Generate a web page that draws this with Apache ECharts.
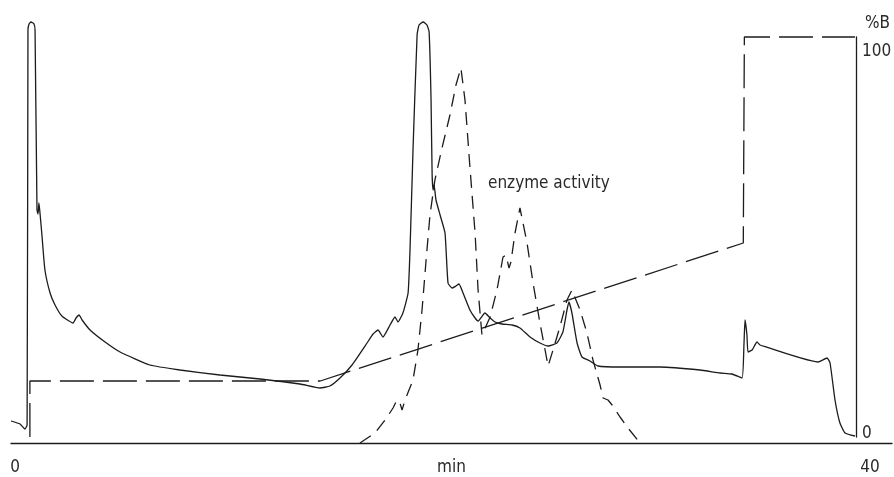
<!DOCTYPE html>
<html>
<head>
<meta charset="utf-8">
<script src="https://cdn.jsdelivr.net/npm/echarts@6/dist/echarts.min.js"></script>
<style>
  html, body { margin: 0; padding: 0; background: #fff; }
  #chart { width: 894px; height: 477px; }
</style>
</head>
<body>
<div id="chart"></div>
<script>
// Chromatogram with gradient (%B) and enzyme activity traces.
// Absorbance and activity are in arbitrary units on hidden 0-100 axes.

const xTicks = [0, 40];
const bTicks = [0, 100];

// UV absorbance (solid)
const absTime = [0, 0.42, 0.65, 0.75, 0.79, 0.84, 0.93, 1.07, 1.12, 1.21, 1.26, 1.30, 1.35, 1.44, 1.58, 1.82,
  2.05, 2.37, 2.89, 3.03, 3.17, 3.31, 3.68, 4.38, 5.08, 6.47, 7.87, 9.73, 11.6, 13.46, 14.39, 14.85, 15.32,
  15.88, 16.58, 16.86, 17.09, 17.32, 17.65, 17.88, 18.02, 18.25, 18.49, 18.58, 18.72, 18.91, 19.0, 19.19,
  19.37, 19.47, 19.56, 19.61, 19.66, 19.70, 19.79, 19.98, 20.21, 20.35, 20.54, 20.72, 20.86, 21.05, 21.37,
  21.61, 21.75, 22.07, 22.31, 22.54, 22.86, 23.33, 23.70, 24.17, 24.63, 25.01, 25.42, 25.70, 25.89, 25.98,
  26.12, 26.36, 26.59, 26.96, 27.33, 28.36, 30.22, 32.08, 33.02, 33.57, 34.04, 34.13, 34.18, 34.27, 34.32,
  34.51, 34.74, 34.88, 37.58, 38.0, 38.14, 38.37, 38.6, 38.84, 39.3];
const absValue = [4.0, 3.25, 2.0, 3.0, 101.75, 103.25, 103.75, 103.25, 101.75, 56.75, 55.75, 58.5, 56, 50.5, 41.75, 36,
  33, 30.25, 28.5, 29.75, 30.5, 29.25, 26.75, 23.75, 21.25, 18, 16.75, 15.5, 14.5, 13.25, 12.25, 12.75, 14.75,
  18, 23.5, 25.75, 26.75, 25, 28, 30, 28.75, 31, 36, 46.75, 71.75, 100.5, 103, 103.75,
  103, 101.25, 84.25, 65.5, 61.75, 63, 59.25, 55.5, 51, 38.5, 37.25, 37.75, 38.25, 36, 31.75,
  29.75, 29, 31, 29.75, 28.75, 28.25, 28, 27.25, 25, 23.5, 22.75, 23.5, 26.25, 31.75, 33.75,
  31, 23.5, 20, 19, 17.75, 17.5, 17.5, 16.75, 16, 15.75, 14.75, 23, 29.25, 25.5, 21.25,
  21.75, 23.75, 23, 18.75, 19.75, 18.5, 9.25, 3.5, 1, 0.25];

// enzyme activity (short dash)
const enzTime = [16.25, 16.95, 17.42, 17.79, 17.97, 18.11, 18.21, 18.35, 18.72, 18.95, 19.14, 19.33, 19.51, 19.74,
  20.07, 20.44, 20.72, 20.95, 21.14, 21.37, 21.61, 21.75, 21.93, 22.31, 22.63, 22.91, 23.05, 23.19, 23.28, 23.47,
  23.70, 24.03, 24.31, 24.63, 24.87, 25.01, 25.24, 25.56, 25.89, 26.12, 26.5, 26.82, 27.10, 27.43, 27.57, 27.8,
  27.99, 28.36, 28.73, 29.29];
const enzValue = [-1.5, 1, 4.25, 7.25, 9.25, 8.5, 6.75, 9.25, 14.25, 21.75, 31.75, 44.25, 55.5, 64.25,
  72.25, 80.5, 88, 92.25, 84.25, 67.5, 51, 36.75, 25.5, 30, 36.75, 45, 45.5, 42.25, 43.75, 51,
  57.25, 48.5, 38.5, 28.5, 21.75, 17.75, 21.75, 27.5, 34.25, 36.75, 31.75, 26, 19.25, 13, 9.75, 9.25,
  8, 5, 2.25, -1.5];

// gradient %B (long dash)
const gradTime = [0.88, 0.88, 14.4, 34.1, 34.15, 39.3];
const gradB = [0, 14, 14, 48.5, 100, 100];

const zip = (xs, ys) => xs.map((x, i) => [x, ys[i]]);

const ink = '#1c1c1c';
const textColor = '#2a2a2a';
const font = "'DejaVu Sans Condensed', 'Liberation Sans Narrow', sans-serif";
const pxPerMin = 21.475; // both grids share this time scale

const chart = echarts.init(document.getElementById('chart'), null, { renderer: 'canvas' });

chart.setOption({
  animation: false,
  backgroundColor: '#ffffff',
  grid: [
    // main plot: time axis runs past the %B axis to the right edge
    { left: 11, right: 2, top: 37, bottom: 40, outerBoundsMode: 'none', containLabel: false },
    // %B plot: same time scale, right edge at the %B axis
    { left: 11, right: 38, top: 37, bottom: 40, outerBoundsMode: 'none', containLabel: false }
  ],
  xAxis: [
    {
      gridIndex: 0,
      type: 'value',
      min: 0,
      max: 881 / pxPerMin,
      offset: 6,
      name: 'min',
      nameLocation: 'middle',
      nameGap: 16,
      nameMoveOverlap: false,
      nameTextStyle: { color: textColor, fontFamily: font, fontSize: 17 },
      axisLine: { show: true, onZero: false, lineStyle: { color: ink, width: 1.3 } },
      axisTick: { show: false },
      splitLine: { show: false },
      axisLabel: {
        customValues: xTicks,
        margin: 16,
        color: textColor,
        fontFamily: font,
        fontSize: 17,
        formatter: (v) => (v === 0 ? '{l|0}' : '{r|' + v + '}'),
        rich: {
          l: { fontFamily: font, fontSize: 17, color: textColor, padding: [0, 0, 0, 8] },
          r: { fontFamily: font, fontSize: 17, color: textColor }
        }
      }
    },
    {
      gridIndex: 1,
      type: 'value',
      show: false,
      min: 0,
      max: 845 / pxPerMin
    }
  ],
  yAxis: [
    {
      gridIndex: 1,
      type: 'value',
      position: 'right',
      min: 0,
      max: 100,
      name: '%B',
      nameLocation: 'end',
      nameGap: 5,
      nameMoveOverlap: false,
      nameTextStyle: { color: textColor, fontFamily: font, fontSize: 17, align: 'left', padding: [0, 0, 0, 9] },
      axisLine: { show: true, onZero: false, lineStyle: { color: ink, width: 1.3 } },
      axisTick: { show: false },
      splitLine: { show: false },
      axisLabel: {
        customValues: bTicks,
        margin: 6,
        color: textColor,
        fontFamily: font,
        fontSize: 17,
        formatter: (v) => (v === 100 ? '{t|100}' : '{b|' + v + '}'),
        rich: {
          t: { fontFamily: font, fontSize: 17, color: textColor, padding: [30, 0, 0, 0] },
          b: { fontFamily: font, fontSize: 17, color: textColor, padding: [0, 0, 6, 0] }
        }
      }
    },
    { gridIndex: 0, type: 'value', show: false, min: 0, max: 100 },
    { gridIndex: 0, type: 'value', show: false, min: 0, max: 100 }
  ],
  graphic: [
    {
      type: 'text',
      left: 488,
      top: 175,
      style: { text: 'enzyme activity', fill: textColor, font: '17px ' + font }
    }
  ],
  series: [
    {
      name: 'absorbance',
      type: 'line',
      xAxisIndex: 0,
      yAxisIndex: 1,
      data: zip(absTime, absValue),
      showSymbol: false,
      clip: false,
      smooth: 0.15,
      lineStyle: { color: ink, width: 1.3 }
    },
    {
      name: 'enzyme activity',
      type: 'line',
      xAxisIndex: 0,
      yAxisIndex: 2,
      data: zip(enzTime, enzValue),
      showSymbol: false,
      clip: false,
      lineStyle: { color: ink, width: 1.3, type: [13, 8] }
    },
    {
      name: '%B',
      type: 'line',
      xAxisIndex: 1,
      yAxisIndex: 0,
      data: zip(gradTime, gradB),
      showSymbol: false,
      clip: false,
      lineStyle: { color: ink, width: 1.3, type: [34, 9] }
    }
  ]
});
</script>
</body>
</html>
